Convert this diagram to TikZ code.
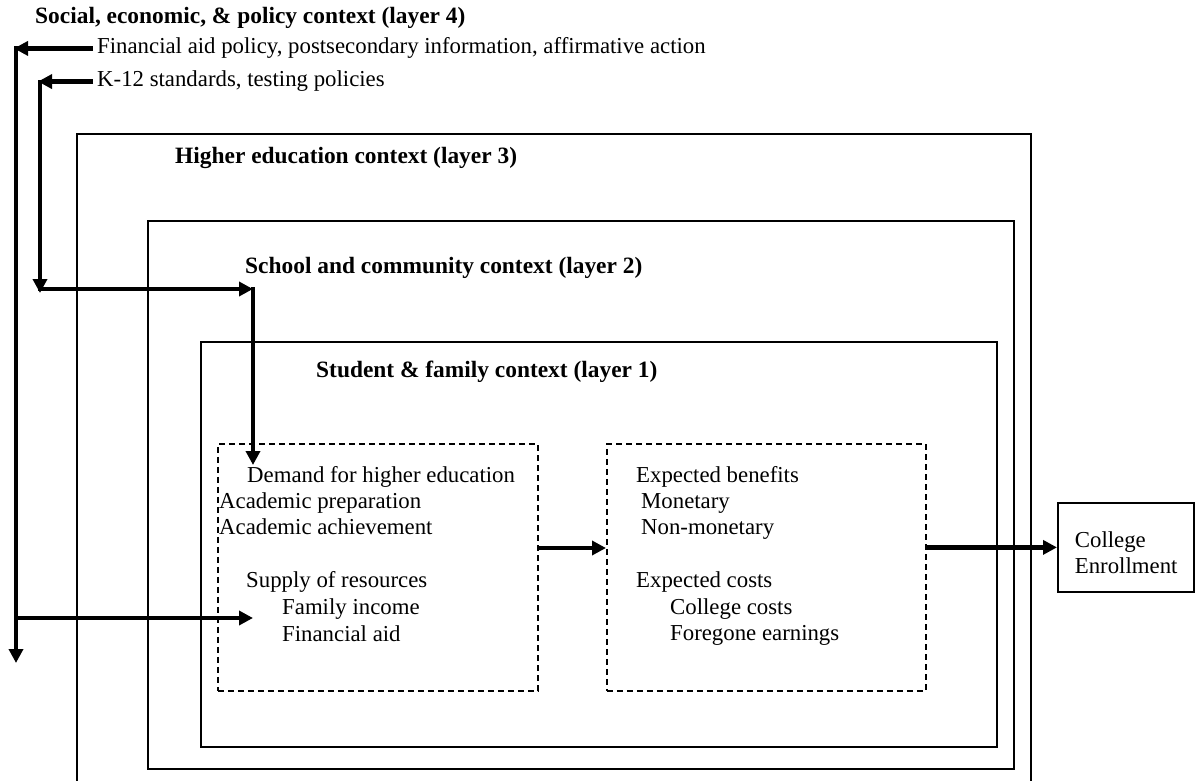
\documentclass[tikz,border=0pt]{standalone}
\usepackage{fontspec}
\setmainfont{Liberation Serif}
\usetikzlibrary{arrows.meta}

\begin{document}
\begin{tikzpicture}[x=1pt, y=-1pt,
    layer/.style={draw, line width=1.8pt, anchor=north west, inner sep=0pt},
    dbox/.style={draw, dash pattern=on 6pt off 4pt, line width=1.8pt,
                 anchor=north west, inner sep=0pt},
    head/.style={anchor=base west, inner sep=0pt,
                 font=\fontsize{23.4}{26}\selectfont\bfseries},
    txt/.style={anchor=base west, inner sep=0pt,
                font=\fontsize{22.8}{26}\selectfont},
    ar/.style={-{Triangle[length=14pt, width=14pt]}, line width=4.5pt},
    rail/.style={-{Triangle[length=14pt, width=14pt]}, line width=4.5pt,
                 shorten <=-2pt}
  ]
  \useasboundingbox (0,0) rectangle (1195,781);
  \clip (0,0) rectangle (1195,781);

  \node[layer, minimum width=954pt, minimum height=700pt] (lay3) at (76,133) {};
  \node[layer, minimum width=866pt, minimum height=548pt] (lay2) at (147,220) {};
  \node[layer, minimum width=796pt, minimum height=405pt] (lay1) at (200,341) {};
  \node[dbox, minimum width=320pt, minimum height=247pt] (demandbox) at (217,443) {};
  \node[dbox, minimum width=319pt, minimum height=247pt] (valuebox) at (606,443) {};
  \node[layer, minimum width=136pt, minimum height=89pt, align=left,
        text width=102pt, inner xsep=17pt, text depth=16.5pt,
        font=\fontsize{22.8}{26}\selectfont] (college) at (1057,502)
       {College\\Enrollment};

  \node[head] (l4title) at (35,24) {Social, economic, \& policy context (layer 4)};
  \node[txt] (fin) at (97,54)
       {Financial aid policy, postsecondary information, affirmative action};
  \node[txt] (k12) at (97,87) {K-12 standards, testing policies};
  \node[head] (l3title) at (175,164) {Higher education context (layer 3)};
  \node[head] (l2title) at (245,273) {School and community context (layer 2)};
  \node[head] (l1title) at (316,377) {Student \& family context (layer 1)};

  \node[txt] (demand) at (247,482) {Demand for higher education};
  \node[txt] (prep) at (219,508) {Academic preparation};
  \node[txt] (achv) at (219,534) {Academic achievement};
  \node[txt] (supply) at (246,587) {Supply of resources};
  \node[txt] (income) at (282,614) {Family income};
  \node[txt] (aid) at (282,641) {Financial aid};

  \node[txt] (benef) at (636,482) {Expected benefits};
  \node[txt] (monet) at (641,508) {Monetary};
  \node[txt] (nonmon) at (641,534) {Non-monetary};
  \node[txt] (costs) at (636,587) {Expected costs};
  \node[txt] (ccost) at (670,614) {College costs};
  \node[txt] (forgone) at (670,640) {Foregone earnings};

  \coordinate (rail4) at (16,663);
  \coordinate (rail4in) at (253,618);
  \coordinate (bend) at (40,289);
  \coordinate (demin) at (253,465);
  \coordinate (midrow) at (0,548);

  \draw[ar, shorten <=4pt, shorten >=-2pt] (fin.west) -- (fin.west -| rail4);
  \draw[rail] (fin.west -| rail4) -- (rail4);
  \draw[ar] (rail4in -| rail4) -- (rail4in);
  \draw[ar, shorten <=4pt, shorten >=-2pt] (k12.west) -- (k12.west -| bend);
  \draw[rail] (k12.west -| bend) -- ([yshift=-4pt]bend);
  \draw[ar] ([xshift=-2pt]bend) -- (bend -| demin);
  \draw[rail] (bend -| demin) -- (demin);
  \draw[ar] (demandbox.east |- midrow) -- (valuebox.west |- midrow);
  \draw[ar] (valuebox.east |- college.west) -- (college.west);
\end{tikzpicture}
\end{document}
